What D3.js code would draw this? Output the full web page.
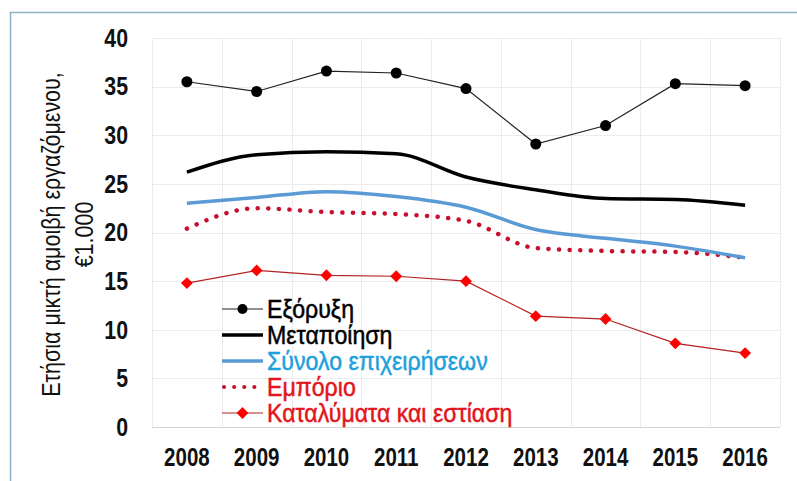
<!DOCTYPE html>
<html>
<head>
<meta charset="utf-8">
<script src="https://cdn.jsdelivr.net/npm/d3@7"></script>
<style>
  body { margin: 0; background: #fff; }
</style>
</head>
<body>
<svg id="chart"></svg>
<script>
// data
const years = ["2008", "2009", "2010", "2011", "2012", "2013", "2014", "2015", "2016"];
const yTicks = [0, 5, 10, 15, 20, 25, 30, 35, 40];

const mining = [35.5, 34.5, 36.6, 36.4, 34.8, 29.1, 31.0, 35.3, 35.1];
const manufacturing = [26.2, 28.0, 28.3, 28.1, 25.7, 24.4, 23.5, 23.4, 22.8];
const allBusiness = [23.0, 23.6, 24.2, 23.7, 22.6, 20.3, 19.4, 18.6, 17.4];
const trade = [20.4, 22.5, 22.1, 21.9, 21.2, 18.4, 18.1, 18.0, 17.4];
const hotels = [14.8, 16.1, 15.6, 15.5, 15.0, 11.4, 11.1, 8.6, 7.6];

const seriesNames = ["Εξόρυξη", "Μεταποίηση", "Σύνολο επιχειρήσεων", "Εμπόριο", "Καταλύματα και εστίαση"];

const width = 797;
const height = 481;
const margin = { top: 38, right: 17, bottom: 54, left: 152 };
// no narrow font installed, so squeeze text sideways
const narrow = 0.82;

const svg = d3.select("#chart")
    .attr("width", width)
    .attr("height", height)
    .style("font-family", "'Liberation Sans', Arial, sans-serif");

// frame of the picture
svg.append("path")
    .attr("d", `M10.5,${height} V12.5 H${width}`)
    .attr("fill", "none")
    .attr("stroke", "#8fb3c6")
    .attr("stroke-width", 1.5);

const xBand = d3.scaleBand()
    .domain(years)
    .range([margin.left, width - margin.right]);

const x = d => xBand(d) + xBand.bandwidth() / 2;

const y = d3.scaleLinear()
    .domain([0, 40])
    .range([height - margin.bottom, margin.top]);

// grid
const grid = svg.append("g");
grid.selectAll("line.h")
    .data(yTicks)
    .enter()
    .append("line")
        .attr("x1", margin.left)
        .attr("x2", width - margin.right)
        .attr("y1", d => Math.round(y(d)) + 0.5)
        .attr("y2", d => Math.round(y(d)) + 0.5)
        .attr("stroke", d => d === 0 ? "#d4d4d4" : "#ececec");

grid.selectAll("line.v")
    .data(years.concat(["end"]))
    .enter()
    .append("line")
        .attr("x1", (d, i) => Math.round(margin.left + i * xBand.bandwidth()) + 0.5)
        .attr("x2", (d, i) => Math.round(margin.left + i * xBand.bandwidth()) + 0.5)
        .attr("y1", y(40))
        .attr("y2", y(0))
        .attr("stroke", "#ececec");

// axes
const yAxis = d3.axisLeft(y)
    .tickValues(yTicks)
    .tickSize(0)
    .tickPadding(0);

svg.append("g")
    .attr("transform", `translate(128, 0)`)
    .call(yAxis)
    .call(g => g.select(".domain").remove())
    .selectAll("text")
        .attr("font-family", "'Liberation Sans', Arial, sans-serif")
        .attr("font-size", 26)
        .attr("font-weight", "bold")
        .attr("fill", "#111")
        .attr("transform", `scale(${narrow}, 1)`);

const xAxis = d3.axisBottom(xBand)
    .tickSize(0)
    .tickPadding(0);

svg.append("g")
    .attr("transform", `translate(0, 448)`)
    .call(xAxis)
    .call(g => g.select(".domain").remove())
    .selectAll("text")
        .attr("font-family", "'Liberation Sans', Arial, sans-serif")
        .attr("font-size", 25)
        .attr("font-weight", "bold")
        .attr("fill", "#111")
        .attr("transform", `scale(${narrow}, 1)`);

// y-axis label
const yLabel = svg.append("text")
    .attr("transform", `translate(60, ${y(20) + 2}) rotate(-90) scale(0.86, 1)`)
    .attr("text-anchor", "middle")
    .attr("font-size", 25)
    .attr("fill", "#111");
yLabel.append("tspan")
    .attr("x", 0)
    .attr("dy", 0)
    .text("Ετήσια μικτή αμοιβή εργαζόμενου,");
yLabel.append("tspan")
    .attr("x", 0)
    .attr("dy", 33)
    .text("€1.000");

const straight = d3.line()
    .x((d, i) => x(years[i]))
    .y(d => y(d));

const smooth = d3.line()
    .x((d, i) => x(years[i]))
    .y(d => y(d))
    .curve(d3.curveMonotoneX);

// Εμπόριο
svg.append("path")
    .datum(trade)
    .attr("d", smooth)
    .attr("fill", "none")
    .attr("stroke", "#c8102e")
    .attr("stroke-width", 4.5)
    .attr("stroke-linecap", "round")
    .attr("stroke-dasharray", "0.1 10.5");

// Σύνολο επιχειρήσεων
svg.append("path")
    .datum(allBusiness)
    .attr("d", smooth)
    .attr("fill", "none")
    .attr("stroke", "#5b9bd5")
    .attr("stroke-width", 3.5);

// Μεταποίηση
svg.append("path")
    .datum(manufacturing)
    .attr("d", smooth)
    .attr("fill", "none")
    .attr("stroke", "#000")
    .attr("stroke-width", 3.5);

// Εξόρυξη
svg.append("path")
    .datum(mining)
    .attr("d", straight)
    .attr("fill", "none")
    .attr("stroke", "#222")
    .attr("stroke-width", 1.2);

svg.selectAll("circle.mining")
    .data(mining)
    .enter()
    .append("circle")
        .attr("cx", (d, i) => x(years[i]))
        .attr("cy", d => y(d))
        .attr("r", 5.5)
        .attr("fill", "#000");

// Καταλύματα και εστίαση
svg.append("path")
    .datum(hotels)
    .attr("d", straight)
    .attr("fill", "none")
    .attr("stroke", "#b22222")
    .attr("stroke-width", 1.2);

const diamond = d3.symbol().type(d3.symbolDiamond2).size(90);

svg.selectAll("path.hotel")
    .data(hotels)
    .enter()
    .append("path")
        .attr("d", diamond)
        .attr("transform", (d, i) => `translate(${x(years[i])}, ${y(d)})`)
        .attr("fill", "#ff0000");

// legend
const legendColors = ["#000", "#000", "#1ea0dc", "#e3141c", "#e3141c"];
const legend = svg.append("g").attr("transform", "translate(222, 309)");
const rowH = 26;

legend.selectAll("text")
    .data(seriesNames)
    .enter()
    .append("text")
        .attr("transform", (d, i) => `translate(45, ${i * rowH}) scale(0.89, 1)`)
        .attr("dy", "0.36em")
        .attr("font-size", 26)
        .attr("fill", (d, i) => legendColors[i])
        .attr("stroke", (d, i) => legendColors[i])
        .attr("stroke-width", 0.5)
        .text(d => d);

// legend samples
legend.append("line").attr("x1", 0).attr("x2", 41).attr("y1", 0).attr("y2", 0)
    .attr("stroke", "#222").attr("stroke-width", 1.2);
legend.append("circle").attr("cx", 20.5).attr("cy", 0).attr("r", 5).attr("fill", "#000");

legend.append("line").attr("x1", 0).attr("x2", 41).attr("y1", rowH).attr("y2", rowH)
    .attr("stroke", "#000").attr("stroke-width", 3.5);

legend.append("line").attr("x1", 0).attr("x2", 41).attr("y1", 2 * rowH).attr("y2", 2 * rowH)
    .attr("stroke", "#5b9bd5").attr("stroke-width", 3.5);

legend.append("line").attr("x1", 2).attr("x2", 41).attr("y1", 3 * rowH).attr("y2", 3 * rowH)
    .attr("stroke", "#c8102e").attr("stroke-width", 4)
    .attr("stroke-linecap", "round").attr("stroke-dasharray", "0.1 10");

legend.append("line").attr("x1", 0).attr("x2", 41).attr("y1", 4 * rowH).attr("y2", 4 * rowH)
    .attr("stroke", "#b22222").attr("stroke-width", 1.2);
legend.append("path").attr("d", diamond)
    .attr("transform", `translate(20.5, ${4 * rowH})`)
    .attr("fill", "#ff0000");
</script>
</body>
</html>
